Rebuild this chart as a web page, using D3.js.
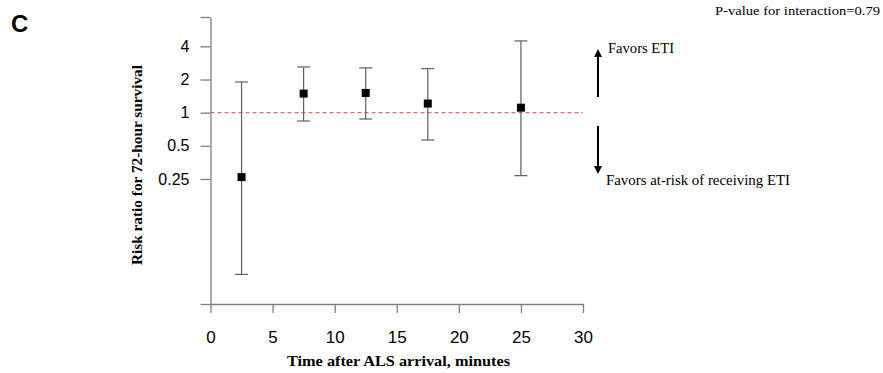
<!DOCTYPE html>
<html>
<head>
<meta charset="utf-8">
<script src="https://cdn.jsdelivr.net/npm/d3@7"></script>
<style>
  body { margin: 0; background: #fff; }
  .tick text { font-family: "Liberation Sans", Arial, sans-serif; fill: #000; }
  .serif { font-family: "Liberation Serif", "Times New Roman", serif; }
</style>
</head>
<body>
<div id="chart"></div>
<script>
// time windows (minutes after ALS arrival)
var minutes = [2.5, 7.5, 12.5, 17.5, 25];
// risk ratio for 72-hour survival and 95% CI
var riskRatio = [0.26, 1.49, 1.51, 1.21, 1.11];
var lowerCI = [0.034, 0.84, 0.876, 0.565, 0.268];
var upperCI = [1.90, 2.60, 2.55, 2.51, 4.48];
// axis ticks
var xTicks = [0, 5, 10, 15, 20, 25, 30];
var yTicks = [0.25, 0.5, 1, 2, 4];

var width = 883, height = 373;

var svg = d3.select("#chart").append("svg")
  .attr("width", width)
  .attr("height", height);

// log scale spanning ln(RR) from -4 to 2
var yMin = Math.exp(-4), yMax = Math.exp(2);
var x = d3.scaleLinear().domain([0, 30]).range([210.5, 583]);
var y = d3.scaleLog().domain([yMin, yMax]).range([304, 17]);

var axisColor = "#7f7f7f";

// x axis
var gx = svg.append("g")
  .attr("transform", "translate(0,304)")
  .call(d3.axisBottom(x)
    .tickValues(xTicks)
    .tickSizeInner(9)
    .tickSizeOuter(0)
    .tickPadding(18));
gx.selectAll("text").style("font-size", "17px");

// y axis (end ticks unlabeled)
var gy = svg.append("g")
  .attr("transform", "translate(210.5,0)")
  .call(d3.axisLeft(y)
    .tickValues([yMin].concat(yTicks, [yMax]))
    .tickFormat(function(d) { return yTicks.indexOf(d) >= 0 ? d3.format("")(d) : ""; })
    .tickSizeInner(10)
    .tickSizeOuter(0)
    .tickPadding(11));
gy.selectAll("text").style("font-size", "16px");

svg.selectAll(".domain, .tick line")
  .attr("stroke", axisColor)
  .attr("stroke-width", 1.3);

// reference line at RR = 1
svg.append("line")
  .attr("x1", x(0)).attr("x2", x(30))
  .attr("y1", y(1)).attr("y2", y(1))
  .attr("stroke", "#f04848")
  .attr("stroke-width", 1)
  .attr("stroke-dasharray", "4,3");

var pts = minutes.map(function(m, i) {
  return { m: m, rr: riskRatio[i], lo: lowerCI[i], hi: upperCI[i] };
});

var barColor = "#606060";
var cap = 6.5;

var bars = svg.append("g").selectAll("g")
  .data(pts).enter().append("g");

bars.append("line")
  .attr("x1", function(d) { return x(d.m); })
  .attr("x2", function(d) { return x(d.m); })
  .attr("y1", function(d) { return y(d.lo); })
  .attr("y2", function(d) { return y(d.hi); })
  .attr("stroke", barColor).attr("stroke-width", 1.2);

bars.append("line")
  .attr("x1", function(d) { return x(d.m) - cap; })
  .attr("x2", function(d) { return x(d.m) + cap; })
  .attr("y1", function(d) { return y(d.hi); })
  .attr("y2", function(d) { return y(d.hi); })
  .attr("stroke", barColor).attr("stroke-width", 1.2);

bars.append("line")
  .attr("x1", function(d) { return x(d.m) - cap; })
  .attr("x2", function(d) { return x(d.m) + cap; })
  .attr("y1", function(d) { return y(d.lo); })
  .attr("y2", function(d) { return y(d.lo); })
  .attr("stroke", barColor).attr("stroke-width", 1.2);

bars.append("rect")
  .attr("x", function(d) { return x(d.m) - 4; })
  .attr("y", function(d) { return y(d.rr) - 4; })
  .attr("width", 8).attr("height", 8)
  .attr("fill", "#000");

// axis titles (text is a bit wide in the original, so stretch it)
svg.append("text")
  .attr("class", "serif")
  .attr("x", 287).attr("y", 366)
  .attr("textLength", 223).attr("lengthAdjust", "spacingAndGlyphs")
  .style("font-size", "14.5px").style("font-weight", "bold")
  .text("Time after ALS arrival, minutes");

svg.append("text")
  .attr("class", "serif")
  .attr("transform", "translate(142,265) rotate(-90)")
  .attr("textLength", 200).attr("lengthAdjust", "spacingAndGlyphs")
  .style("font-size", "14px").style("font-weight", "bold")
  .text("Risk ratio for 72-hour survival");

// panel letter
svg.append("text")
  .attr("x", 11).attr("y", 32)
  .style("font-family", "Liberation Sans, Arial, sans-serif")
  .style("font-size", "24px").style("font-weight", "bold")
  .text("C");

svg.append("text")
  .attr("class", "serif")
  .attr("x", 715).attr("y", 15)
  .attr("textLength", 165).attr("lengthAdjust", "spacingAndGlyphs")
  .style("font-size", "13.5px")
  .text("P-value for interaction=0.79");

// direction arrows
var ax = 598;
svg.append("defs").append("marker")
  .attr("id", "head")
  .attr("viewBox", "0 0 10 10")
  .attr("refX", 5).attr("refY", 5)
  .attr("markerWidth", 4).attr("markerHeight", 4.5)
  .attr("orient", "auto")
  .append("path")
  .attr("d", "M0,0 L10,5 L0,10 Z")
  .attr("fill", "#000");

svg.append("line")
  .attr("x1", ax).attr("x2", ax)
  .attr("y1", 97).attr("y2", 53)
  .attr("stroke", "#000").attr("stroke-width", 2)
  .attr("marker-end", "url(#head)");

svg.append("line")
  .attr("x1", ax).attr("x2", ax)
  .attr("y1", 126).attr("y2", 170)
  .attr("stroke", "#000").attr("stroke-width", 2)
  .attr("marker-end", "url(#head)");

svg.append("text")
  .attr("class", "serif")
  .attr("x", 608).attr("y", 53)
  .attr("textLength", 66).attr("lengthAdjust", "spacingAndGlyphs")
  .style("font-size", "14px")
  .text("Favors ETI");

svg.append("text")
  .attr("class", "serif")
  .attr("x", 606).attr("y", 185)
  .attr("textLength", 184).attr("lengthAdjust", "spacingAndGlyphs")
  .style("font-size", "14px")
  .text("Favors at-risk of receiving ETI");
</script>
</body>
</html>
